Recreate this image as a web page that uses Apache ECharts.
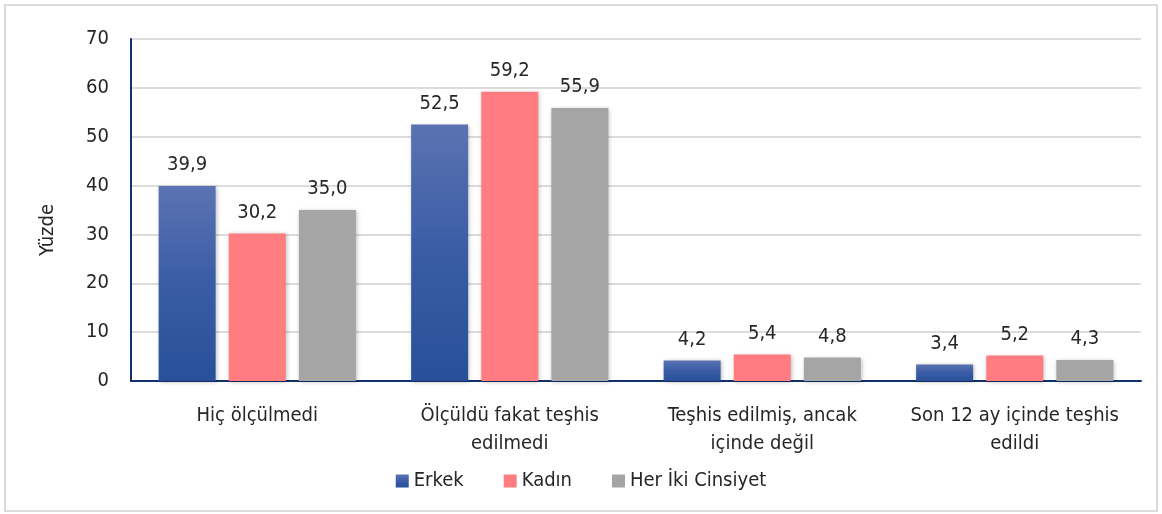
<!DOCTYPE html>
<html lang="tr">
<head>
    <meta charset="UTF-8">
    <title>Yüzde</title>
    <style>
        html, body { margin: 0; padding: 0; background: #fff; }
        #main { width: 1162px; height: 514px; }
    </style>
</head>
<body>
<div id="main"></div>
<script src="https://cdn.jsdelivr.net/npm/echarts@6/dist/echarts.min.js"></script>
<script>
    var categories = ['Hiç ölçülmedi', 'Ölçüldü fakat teşhis\nedilmedi', 'Teşhis edilmiş, ancak\niçinde değil', 'Son 12 ay içinde teşhis\nedildi'];
    var erkek = [39.9, 52.5, 4.2, 3.4];
    var kadin = [30.2, 59.2, 5.4, 5.2];
    var herIki = [35.0, 55.9, 4.8, 4.3];
    var yTicks = [0, 10, 20, 30, 40, 50, 60, 70];

    var font = '"Liberation Sans Narrow", "DejaVu Sans Condensed", sans-serif';

    function lbl() {
        return {
            show: true,
            position: 'top',
            distance: 11,
            fontFamily: font,
            fontSize: 20,
            color: '#262626',
            formatter: function (p) { return p.value.toFixed(1).replace('.', ','); }
        };
    }
    var shadow = { shadowColor: 'rgba(0,0,0,0.25)', shadowBlur: 4, shadowOffsetX: 1, shadowOffsetY: 1 };

    var myChart = echarts.init(document.getElementById('main'));
    myChart.setOption({
        animation: false,
        textStyle: { fontFamily: font },
        graphic: [{
            type: 'rect',
            shape: { x: 5, y: 5, width: 1152, height: 506 },
            style: { fill: 'none', stroke: '#d0d0d0', lineWidth: 1.5 },
            silent: true
        }, {
            // y ekseni başlığı
            type: 'text',
            x: 48,
            y: 230,
            rotation: Math.PI / 2,
            style: {
                text: 'Yüzde',
                fontFamily: font,
                fontSize: 20,
                fill: '#262626',
                align: 'center',
                verticalAlign: 'middle'
            },
            silent: true
        }],
        grid: { left: 131, right: 21, top: 39, bottom: 133 },
        legend: {
            bottom: 18,
            left: 'center',
            itemWidth: 13,
            itemHeight: 13,
            itemGap: 40,
            icon: 'rect',
            textStyle: { fontFamily: font, fontSize: 20, color: '#262626' },
            data: ['Erkek', 'Kadın', 'Her İki Cinsiyet']
        },
        xAxis: {
            type: 'category',
            data: categories,
            axisLine: { lineStyle: { color: '#12306b', width: 2 } },
            axisTick: { show: false },
            axisLabel: { fontFamily: font, fontSize: 20, color: '#262626', margin: 21, lineHeight: 28, interval: 0 }
        },
        yAxis: {
            type: 'value',
            min: yTicks[0],
            max: yTicks[yTicks.length - 1],
            interval: 10,
            axisLine: { show: true, lineStyle: { color: '#12306b', width: 2 } },
            axisTick: { show: false },
            axisLabel: { fontFamily: font, fontSize: 20, color: '#262626', margin: 22 },
            splitLine: { lineStyle: { color: '#d0d0d0', width: 1.5 } }
        },
        series: [{
            name: 'Erkek',
            type: 'bar',
            data: erkek,
            barWidth: 57,
            barGap: '23%',
            label: lbl(),
            itemStyle: Object.assign({
                color: new echarts.graphic.LinearGradient(0, 0, 0, 1, [
                    { offset: 0, color: '#5b73b2' },
                    { offset: 0.5, color: '#3a5ca6' },
                    { offset: 1, color: '#28509a' }
                ])
            }, shadow)
        }, {
            name: 'Kadın',
            type: 'bar',
            data: kadin,
            barWidth: 57,
            label: lbl(),
            itemStyle: Object.assign({ color: '#ff7c80' }, shadow)
        }, {
            name: 'Her İki Cinsiyet',
            type: 'bar',
            data: herIki,
            barWidth: 57,
            label: lbl(),
            itemStyle: Object.assign({ color: '#a5a5a5' }, shadow)
        }]
    });
</script>
</body>
</html>
